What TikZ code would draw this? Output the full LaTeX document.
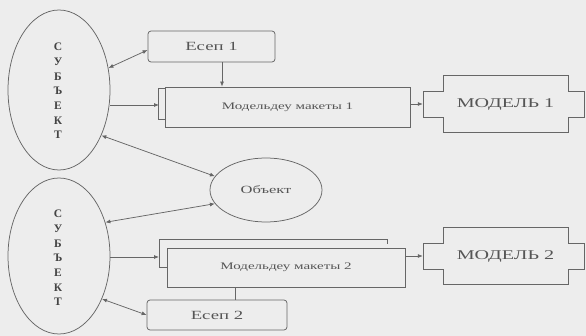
\documentclass[tikz,border=0pt]{standalone}
\usepackage{fontspec}
\setmainfont{Liberation Serif}
\usepackage{graphicx}
\usetikzlibrary{shapes.geometric,arrows.meta,calc}
\definecolor{bgc}{HTML}{EDEDED}
\definecolor{lnc}{HTML}{666666}
\definecolor{txc}{HTML}{555555}
\definecolor{ltc}{HTML}{444444}
\newcommand{\wide}[1]{\scalebox{1.5}[1]{#1}}
\begin{document}
\begin{tikzpicture}[x=1pt,y=-1pt,
  gline/.style={draw=lnc,line width=0.75pt},
  arr/.style={gline,-{Latex[length=5pt,width=4pt]}},
  darr/.style={gline,{Latex[length=5pt,width=4pt]}-{Latex[length=5pt,width=4pt]}},
  subj/.style={ellipse,gline,inner sep=0pt,minimum width=102pt},
  letters/.style={text=ltc,font=\bfseries\fontsize{11.5}{14.7}\selectfont,align=center,inner sep=0pt},
  box/.style={gline,text=txc,inner sep=0pt},
  crossline/.pic={\draw[gline] (-62.5,-28.5) -- (-62.5,-13) -- (-82.5,-13) -- (-82.5,13) -- (-62.5,13) -- (-62.5,28.5) -- (62.5,28.5) -- (62.5,13) -- (78.5,13) -- (78.5,-13) -- (62.5,-13) -- (62.5,-28.5) -- cycle;}
]
\fill[bgc] (0,0) rectangle (586,336);
\useasboundingbox (0,0) rectangle (586,336);

% subjects
\node[subj,minimum height=160pt] (s1) at (59,90) {};
\node[letters] (t1) at (58,91) {С\\У\\Б\\Ъ\\Е\\К\\Т};
\node[subj,minimum height=156pt] (s2) at (59,256) {};
\node[letters] (t2) at (58,258) {С\\У\\Б\\Ъ\\Е\\К\\Т};

% task boxes
\node[box,rounded corners=3pt,minimum width=127pt,minimum height=31pt,font=\fontsize{12.5}{14}\selectfont] (e1) at (211.5,46.5) {\wide{Есеп 1}};
\node[box,rounded corners=3pt,minimum width=140pt,minimum height=30pt,font=\fontsize{12.5}{14}\selectfont] (e2) at (217,315) {\wide{Есеп 2}};

% modelling layout boxes
\node[box,minimum width=245pt,minimum height=40pt,font=\fontsize{10}{12}\selectfont] (m1) at (287.5,107) {\wide{Модельдеу макеты 1}};
\draw[gline] ($(m1.north west)+(0,2)$) -| ($(m1.south west)+(-6,-8)$) -- ++(6,0);
\node[box,minimum width=238pt,minimum height=39pt,font=\fontsize{10}{12}\selectfont] (m2) at (286,267.5) {\wide{Модельдеу макеты 2}};
\draw[gline] ($(m2.north west)+(0,20)$) -- ++(-7,0) -- ++(0,-28) -| ($(m2.north east)+(-18,-4)$);

% object
\node[ellipse,gline,text=txc,inner sep=0pt,minimum width=112pt,minimum height=64pt,font=\fontsize{11}{13}\selectfont] (ob) at (266,190) {\wide{Объект}};

% models
\node[text=txc,inner sep=0pt,minimum width=125pt,minimum height=57pt,font=\fontsize{13.4}{15}\selectfont] (M1) at (505.5,104) {\wide{МОДЕЛЬ 1}};
\pic at (M1) {crossline};
\coordinate (M1in) at ($(M1.west)+(-20,0)$);
\node[text=txc,inner sep=0pt,minimum width=125pt,minimum height=57pt,font=\fontsize{13.4}{15}\selectfont] (M2) at (505.5,256) {\wide{МОДЕЛЬ 2}};
\pic at (M2) {crossline};
\coordinate (M2in) at ($(M2.west)+(-20,0)$);

% connectors
\coordinate (b1) at (159,105);
\coordinate (b2) at (159,257);
\draw[arr] (s1.east |- b1) -- (b1);
\draw[arr] ([xshift=10.5pt]e1.south) -- ([xshift=10.5pt]e1.south |- m1.north);
\draw[darr] (s1.24) -- ([yshift=-3.5pt]e1.west);
\draw[darr] (s1.-47) -- (ob.165);
\draw[darr] (ob.195) -- (s2.36);
\draw[arr] (m1.east |- M1in) -- (M1in);
\draw[arr] (s2.east |- b2) -- (b2);
\draw[arr] (m2.east |- M2in) -- (M2in);
\draw[gline] ([xshift=18pt]e2.north) -- ([xshift=18pt]e2.north |- m2.south);
\draw[darr] (s2.-45) -- (e2.west);
\end{tikzpicture}
\end{document}
